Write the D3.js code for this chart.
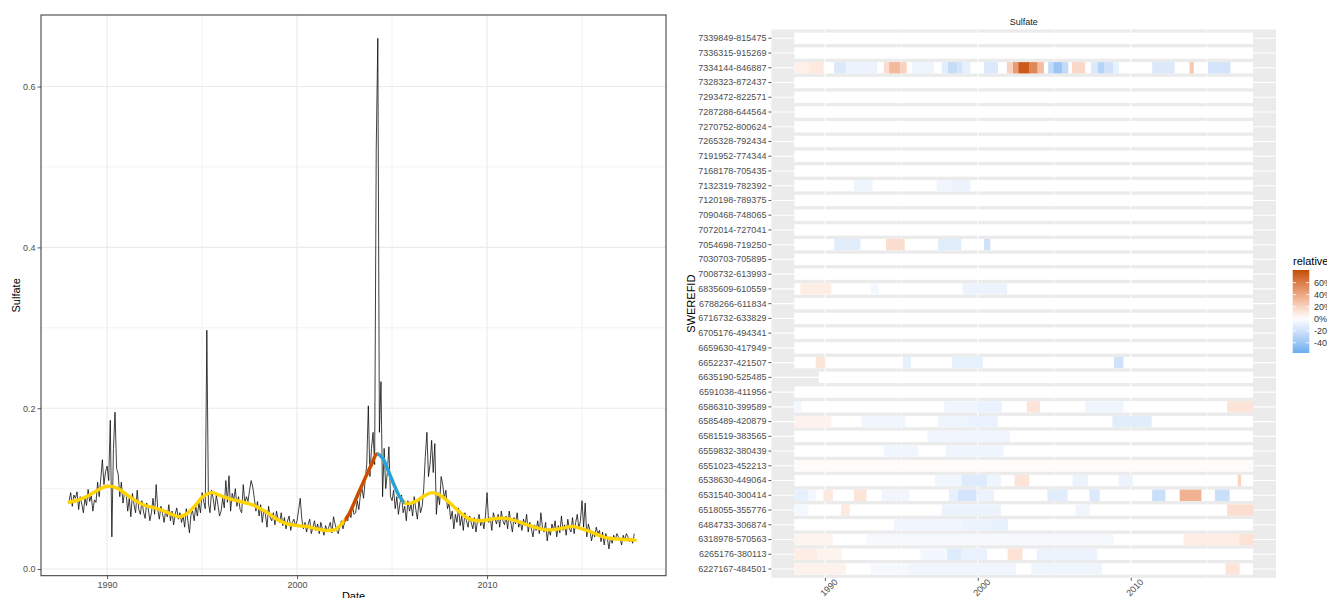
<!DOCTYPE html>
<html>
<head>
<meta charset="utf-8">
<script src="https://cdn.jsdelivr.net/npm/d3@7"></script>
<style>
  html, body { margin: 0; padding: 0; background: #ffffff; }
  svg { display: block; font-family: "Liberation Sans", Arial, sans-serif; }
</style>
</head>
<body>
<svg id="chart" width="1327" height="598"></svg>
<script>
// ---------------- data: monthly sulfate series ----------------
const seriesStartYear = 1988;
const sulfateMonthly = [
  0.085,0.095,0.078,0.092,0.088,0.096,0.074,0.090,0.081,0.070,0.088,0.079, // 1988
  0.099,0.084,0.091,0.072,0.086,0.083,0.108,0.090,0.112,0.136,0.105,0.121, // 1989
  0.128,0.110,0.185,0.040,0.150,0.195,0.125,0.118,0.090,0.108,0.082,0.095, // 1990
  0.095,0.072,0.088,0.065,0.094,0.080,0.070,0.098,0.074,0.068,0.085,0.071, // 1991
  0.063,0.082,0.075,0.060,0.070,0.088,0.068,0.105,0.074,0.062,0.078,0.069, // 1992
  0.058,0.073,0.065,0.080,0.060,0.072,0.055,0.068,0.076,0.062,0.070,0.058, // 1993
  0.066,0.052,0.075,0.060,0.045,0.068,0.072,0.060,0.078,0.066,0.082,0.070, // 1994
  0.095,0.084,0.075,0.297,0.082,0.070,0.098,0.088,0.073,0.092,0.080,0.066, // 1995
  0.072,0.088,0.076,0.110,0.083,0.116,0.072,0.094,0.086,0.100,0.078,0.090, // 1996
  0.074,0.070,0.105,0.082,0.090,0.084,0.098,0.110,0.102,0.088,0.072,0.084, // 1997
  0.066,0.080,0.058,0.074,0.068,0.052,0.078,0.064,0.060,0.070,0.055,0.072, // 1998
  0.062,0.058,0.070,0.054,0.064,0.050,0.060,0.066,0.048,0.058,0.062,0.054, // 1999
  0.060,0.074,0.088,0.062,0.050,0.058,0.046,0.056,0.062,0.044,0.052,0.060, // 2000
  0.048,0.056,0.044,0.058,0.050,0.042,0.054,0.047,0.052,0.058,0.045,0.065, // 2001
  0.056,0.048,0.044,0.054,0.060,0.050,0.058,0.066,0.060,0.072,0.064,0.078, // 2002
  0.068,0.070,0.085,0.074,0.092,0.100,0.088,0.110,0.130,0.203,0.115,0.150, // 2003
  0.170,0.130,0.522,0.660,0.170,0.233,0.090,0.150,0.100,0.120,0.152,0.090, // 2004
  0.085,0.098,0.075,0.090,0.068,0.082,0.092,0.070,0.078,0.060,0.085,0.072, // 2005
  0.080,0.066,0.090,0.074,0.062,0.086,0.070,0.078,0.100,0.140,0.170,0.115, // 2006
  0.130,0.160,0.120,0.156,0.068,0.095,0.080,0.115,0.105,0.088,0.098,0.075, // 2007
  0.082,0.062,0.072,0.050,0.068,0.058,0.076,0.054,0.066,0.048,0.070,0.060, // 2008
  0.052,0.066,0.058,0.050,0.064,0.046,0.060,0.068,0.054,0.062,0.050,0.066, // 2009
  0.095,0.058,0.064,0.048,0.070,0.062,0.056,0.068,0.052,0.072,0.060,0.055, // 2010
  0.066,0.050,0.072,0.058,0.046,0.064,0.056,0.070,0.052,0.060,0.048,0.062, // 2011
  0.054,0.068,0.046,0.058,0.050,0.040,0.055,0.048,0.060,0.044,0.070,0.052, // 2012
  0.046,0.058,0.035,0.050,0.042,0.056,0.048,0.060,0.040,0.054,0.045,0.066, // 2013
  0.048,0.055,0.042,0.062,0.050,0.046,0.064,0.044,0.058,0.068,0.050,0.060, // 2014
  0.085,0.052,0.082,0.040,0.056,0.048,0.035,0.046,0.040,0.052,0.044,0.048, // 2015
  0.034,0.046,0.030,0.044,0.038,0.025,0.040,0.032,0.042,0.036,0.044,0.040, // 2016
  0.038,0.030,0.042,0.036,0.044,0.040,0.034,0.038,0.032,0.044              // 2017
];

// smoothed trend of the series
const trendYears = [1988.0,1988.5,1989.0,1989.5,1990.0,1990.5,1991.0,1991.5,1992.0,1992.5,
  1993.0,1993.5,1993.8,1994.2,1994.6,1995.0,1995.5,1996.0,1996.5,1997.0,1997.5,1998.0,1998.5,
  1999.0,1999.5,2000.0,2000.5,2001.0,2001.5,2002.0,2002.3,2002.7,2003.0,2003.3,2003.6,2003.9,
  2004.2,2004.5,2004.8,2005.1,2005.4,2005.7,2006.0,2006.3,2006.7,2007.1,2007.5,2008.0,2008.5,
  2009.0,2009.5,2010.0,2010.5,2011.0,2011.5,2012.0,2012.5,2013.0,2013.5,2014.0,2014.5,2015.0,
  2015.5,2016.0,2016.5,2017.0,2017.8];
const trendValues = [0.083,0.086,0.091,0.098,0.103,0.101,0.093,0.085,0.079,0.076,
  0.072,0.067,0.065,0.069,0.078,0.089,0.095,0.091,0.087,0.084,0.081,0.076,0.069,
  0.061,0.056,0.054,0.053,0.050,0.048,0.049,0.055,0.067,0.082,0.098,0.114,0.129,
  0.143,0.138,0.122,0.105,0.090,0.082,0.082,0.085,0.091,0.095,0.092,0.083,0.072,
  0.063,0.060,0.061,0.063,0.063,0.060,0.056,0.052,0.049,0.049,0.051,0.053,0.050,
  0.046,0.041,0.038,0.037,0.036];
const risingSpan = [2002.5, 2004.22];   // significant increase
const fallingSpan = [2004.22, 2005.65]; // significant decrease

const sulfateTicks = [0.0, 0.2, 0.4, 0.6];
const sulfateMinorTicks = [0.1, 0.3, 0.5];
const yearTicks = [1990, 2000, 2010];
const yearMinorTicks = [1995, 2005, 2015];

// ---------------- data: relative change per station ----------------
const stationIds = [
  "7339849-815475","7336315-915269","7334144-846887","7328323-872437","7293472-822571",
  "7287288-644564","7270752-800624","7265328-792434","7191952-774344","7168178-705435",
  "7132319-782392","7120198-789375","7090468-748065","7072014-727041","7054698-719250",
  "7030703-705895","7008732-613993","6835609-610559","6788266-611834","6716732-633829",
  "6705176-494341","6659630-417949","6652237-421507","6635190-525485","6591038-411956",
  "6586310-399589","6585489-420879","6581519-383565","6559832-380439","6551023-452213",
  "6538630-449064","6531540-300414","6518055-355776","6484733-306874","6318978-570563",
  "6265176-380113","6227167-484501"
];
const recordFrom = [1988,1988,1988,1988,1988,1988,1988,1988,1988,1988,1988,1988,1988,1988,1988,
  1988,1988,1988,1988,1988,1988,1988,1988,1989.6,1988,1988,1988,1988,1988,1988,1988,1988,1988,
  1988,1988,1988,1988];
const recordTo = 2018;
// [from, to, relative change in %]
const stationSegments = [
  [], [],
  [[1988.0,1989.0,7],[1989.0,1989.9,10],[1990.6,1991.4,-15],[1991.4,1993.4,-8],[1993.85,1994.2,15],
   [1994.2,1994.9,32],[1994.9,1995.33,20],[1995.7,1997.1,-7],[1997.65,1998.05,-12],[1998.05,1998.65,-24],
   [1998.65,1999.0,-18],[1999.0,1999.5,-10],[2000.4,2001.3,-15],[2001.9,2002.3,20],[2002.3,2002.65,45],
   [2002.65,2003.35,75],[2003.35,2003.9,55],[2003.9,2004.3,30],[2004.6,2004.95,-25],[2004.95,2005.5,-40],
   [2005.5,2005.9,-25],[2006.15,2007.0,18],[2007.4,2007.85,-15],[2007.85,2008.25,-30],[2008.25,2008.85,-20],
   [2008.85,2009.2,-10],[2011.4,2012.85,-15],[2013.85,2014.1,25],[2015.05,2016.5,-18]],
  [], [], [], [], [], [], [],
  [[1991.9,1993.1,-7],[1997.3,1998.3,-6],[1998.3,1999.5,-8]],
  [], [], [],
  [[1990.6,1992.3,-12],[1994.0,1995.2,15],[1997.4,1998.9,-12],[2000.4,2000.8,-20]],
  [], [],
  [[1988.4,1990.4,8],[1993.0,1993.5,-5],[1999.0,2001.9,-8]],
  [], [], [], [],
  [[1989.4,1990.0,12],[1995.1,1995.6,-10],[1998.3,2000.3,-10],[2008.9,2009.5,-20]],
  [], [],
  [[1988.0,1988.45,-5],[1997.8,2000.0,-6],[2000.0,2001.55,-9],[2003.2,2004.05,12],[2007.0,2009.5,-7],[2016.3,2018.0,12]],
  [[1988.0,1990.4,6],[1992.4,1995.25,-6],[1997.4,1999.3,-7],[1999.3,2001.3,-9],[2008.8,2011.35,-12]],
  [[1996.7,2002.1,-6]],
  [[1993.85,1996.1,-6],[1997.9,2001.65,-7]],
  [[1988.0,2018.0,2]],
  [[1997.2,1998.95,-6],[1998.95,2000.6,-14],[2000.6,2001.5,-7],[2002.4,2003.35,12],[2006.2,2007.2,-8],
   [2009.2,2010.1,-8],[2017.0,2017.2,20]],
  [[1988.0,1988.9,-10],[1988.9,1989.4,-5],[1989.9,1990.5,10],[1991.9,1992.7,12],[1993.7,1995.5,-6],
   [1998.1,1998.7,-10],[1998.7,1999.9,-18],[1999.9,2001.05,-8],[2004.55,2005.85,-12],[2007.3,2007.95,-15],
   [2011.4,2012.25,-22],[2013.2,2014.6,35],[2015.5,2016.45,-22]],
  [[1988.0,1988.9,-5],[1991.05,1991.6,10],[1997.65,2001.5,-8],[2006.4,2007.3,-6],[2016.3,2018.0,15]],
  [[1994.5,1999.0,-6],[1999.0,2000.9,-8],[2000.9,2001.95,-10]],
  [[1988.0,1990.5,5],[1992.7,2008.85,-4],[2013.45,2017.1,8],[2017.1,2018.0,13]],
  [[1988.0,1989.5,8],[1989.5,1991.1,5],[1996.25,1998.0,-5],[1998.0,1998.9,-14],[1998.9,2000.6,-9],
   [2001.95,2002.9,13],[2003.85,2007.8,-8]],
  [[1988.0,1991.35,6],[1993.0,1995.5,-4],[1995.5,2002.5,-6],[2003.5,2008.1,-7],[2016.2,2017.1,12]]
];
const relativeRange = [-57, 81];
const legendTicks = [60, 40, 20, 0, -20, -40];

// ---------------- drawing ----------------
const svg = d3.select("#chart");
const TEXT = "#4d4d4d";

function styleAxis(g, size) {
  g.attr("font-family", null).attr("font-size", null);
  g.select(".domain").remove();
  g.selectAll(".tick line").attr("stroke", "#333333").attr("stroke-width", 0.8);
  g.selectAll(".tick text").attr("fill", TEXT).style("font-size", size + "px");
}

// ===== left panel: time series =====
const P = { left: 41, right: 666, top: 15, bottom: 575.7 };
const x = d3.scaleLinear().domain([1986.52, 2019.42]).range([P.left, P.right]);
const y = d3.scaleLinear().domain([-0.0083, 0.689]).range([P.bottom, P.top]);

const left = svg.append("g");
left.append("rect").attr("x", P.left).attr("y", P.top)
  .attr("width", P.right - P.left).attr("height", P.bottom - P.top).attr("fill", "#ffffff");

const gridL = left.append("g");
gridL.selectAll("line.vmin").data(yearMinorTicks).join("line")
  .attr("x1", d => x(d)).attr("x2", d => x(d)).attr("y1", P.top).attr("y2", P.bottom)
  .attr("stroke", "#ebebeb").attr("stroke-width", 0.6);
gridL.selectAll("line.hmin").data(sulfateMinorTicks).join("line")
  .attr("x1", P.left).attr("x2", P.right).attr("y1", d => y(d)).attr("y2", d => y(d))
  .attr("stroke", "#ebebeb").attr("stroke-width", 0.6);
gridL.selectAll("line.vmaj").data(yearTicks).join("line")
  .attr("x1", d => x(d)).attr("x2", d => x(d)).attr("y1", P.top).attr("y2", P.bottom)
  .attr("stroke", "#ebebeb").attr("stroke-width", 1.1);
gridL.selectAll("line.hmaj").data(sulfateTicks).join("line")
  .attr("x1", P.left).attr("x2", P.right).attr("y1", d => y(d)).attr("y2", d => y(d))
  .attr("stroke", "#ebebeb").attr("stroke-width", 1.1);

svg.append("defs").call(defs => {
  defs.append("clipPath").attr("id", "panelClip").append("rect")
    .attr("x", P.left).attr("y", P.top).attr("width", P.right - P.left).attr("height", P.bottom - P.top);
  defs.append("clipPath").attr("id", "riseClip").append("rect")
    .attr("x", x(risingSpan[0])).attr("y", P.top)
    .attr("width", x(risingSpan[1]) - x(risingSpan[0])).attr("height", P.bottom - P.top);
  defs.append("clipPath").attr("id", "fallClip").append("rect")
    .attr("x", x(fallingSpan[0])).attr("y", P.top)
    .attr("width", x(fallingSpan[1]) - x(fallingSpan[0])).attr("height", P.bottom - P.top);
});

const series = sulfateMonthly.map((v, i) => ({ t: seriesStartYear + i / 12, v }));
const plot = left.append("g").attr("clip-path", "url(#panelClip)");
plot.append("path").datum(series)
  .attr("fill", "none").attr("stroke", "#000000").attr("stroke-width", 0.75)
  .attr("stroke-linejoin", "round")
  .attr("d", d3.line().x(d => x(d.t)).y(d => y(d.v)));

const trend = trendYears.map((t, i) => ({ t, v: trendValues[i] }));
const trendLine = d3.line().x(d => x(d.t)).y(d => y(d.v)).curve(d3.curveCatmullRom.alpha(0.5));
plot.append("path").datum(trend).attr("fill", "none").attr("stroke", "#FFD400")
  .attr("stroke-width", 3.4).attr("stroke-linecap", "round").attr("d", trendLine);
plot.append("g").attr("clip-path", "url(#riseClip)").append("path").datum(trend)
  .attr("fill", "none").attr("stroke", "#C94B05").attr("stroke-width", 3.4).attr("d", trendLine);
plot.append("g").attr("clip-path", "url(#fallClip)").append("path").datum(trend)
  .attr("fill", "none").attr("stroke", "#22A3E6").attr("stroke-width", 3.4).attr("d", trendLine);

left.append("rect").attr("x", P.left).attr("y", P.top)
  .attr("width", P.right - P.left).attr("height", P.bottom - P.top)
  .attr("fill", "none").attr("stroke", "#333333").attr("stroke-width", 1);

left.append("g").attr("transform", `translate(${P.left},0)`)
  .call(d3.axisLeft(y).tickValues(sulfateTicks).tickFormat(d3.format(".1f")).tickSize(3.5).tickPadding(2))
  .call(g => styleAxis(g, 9));
left.append("g").attr("transform", `translate(0,${P.bottom})`)
  .call(d3.axisBottom(x).tickValues(yearTicks).tickFormat(d3.format("d")).tickSize(3.5).tickPadding(2))
  .call(g => styleAxis(g, 9));

left.append("text").attr("transform", `translate(20,${(P.top + P.bottom) / 2}) rotate(-90)`)
  .attr("text-anchor", "middle").attr("font-size", 11).attr("fill", "#000").text("Sulfate");
left.append("text").attr("x", (P.left + P.right) / 2).attr("y", 600)
  .attr("text-anchor", "middle").attr("font-size", 11).attr("fill", "#000").text("Date");

// ===== right panel: relative change heat map =====
const H = { left: 771.4, right: 1276, top: 29.45, bottom: 577.85 };
const hx = d3.scaleLinear().domain([1986.5, 2019.5]).range([H.left, H.right]);
const hy = d3.scaleBand().domain(stationIds).range([H.top, H.bottom]).paddingInner(0).paddingOuter(0.1);
const fill = d3.scaleLinear().domain([relativeRange[0], 0, relativeRange[1]])
  .range(["#69aef0", "#ffffff", "#c44c00"]).interpolate(d3.interpolateLab);

const right = svg.append("g");
right.append("rect").attr("x", H.left).attr("y", H.top)
  .attr("width", H.right - H.left).attr("height", H.bottom - H.top).attr("fill", "#ebebeb");

right.selectAll("line.hminor").data(yearMinorTicks).join("line")
  .attr("x1", d => hx(d)).attr("x2", d => hx(d)).attr("y1", H.top).attr("y2", H.bottom)
  .attr("stroke", "#ffffff").attr("stroke-width", 0.6);
right.selectAll("line.hmajor").data(yearTicks).join("line")
  .attr("x1", d => hx(d)).attr("x2", d => hx(d)).attr("y1", H.top).attr("y2", H.bottom)
  .attr("stroke", "#ffffff").attr("stroke-width", 1.1);
right.selectAll("line.hrow").data(stationIds).join("line")
  .attr("x1", H.left).attr("x2", H.right)
  .attr("y1", d => hy(d) + hy.bandwidth() / 2).attr("y2", d => hy(d) + hy.bandwidth() / 2)
  .attr("stroke", "#ffffff").attr("stroke-width", 1.1);

const tileH = hy.bandwidth() * 0.77;
const rows = right.selectAll("g.row").data(stationIds).join("g")
  .attr("transform", d => `translate(0,${hy(d) + (hy.bandwidth() - tileH) / 2})`);
rows.append("rect")
  .attr("x", (d, i) => hx(recordFrom[i])).attr("width", (d, i) => hx(recordTo) - hx(recordFrom[i]))
  .attr("height", tileH).attr("fill", fill(0));
rows.each(function (d, i) {
  d3.select(this).selectAll("rect.seg").data(stationSegments[i]).join("rect")
    .attr("class", "seg")
    .attr("x", s => hx(s[0])).attr("width", s => hx(s[1]) - hx(s[0]) + 0.3)
    .attr("height", tileH).attr("fill", s => fill(s[2]));
});

right.append("g").attr("transform", `translate(${H.left},0)`)
  .call(d3.axisLeft(hy).tickSize(3).tickPadding(2))
  .call(g => styleAxis(g, 9));
right.append("g").attr("transform", `translate(0,${H.bottom})`)
  .call(d3.axisBottom(hx).tickValues(yearTicks).tickFormat(d3.format("d")).tickSize(3))
  .call(g => styleAxis(g, 9))
  .call(g => g.selectAll(".tick text")
    .attr("y", 0).attr("dy", "0.35em").attr("text-anchor", "middle")
    .attr("transform", "translate(3.5,9.7) rotate(-45)"));

right.append("text").attr("x", (H.left + H.right) / 2).attr("y", 25)
  .attr("text-anchor", "middle").attr("font-size", 9).attr("fill", "#1a1a1a").text("Sulfate");
right.append("text").attr("transform", `translate(695,${(H.top + H.bottom) / 2}) rotate(-90)`)
  .attr("text-anchor", "middle").attr("font-size", 11).attr("fill", "#000").text("SWEREFID");

// legend colour bar
const legend = svg.append("g");
const barTop = 270, barBottom = 353, barX = 1292.7, barW = 16.6;
const ly = d3.scaleLinear().domain(relativeRange).range([barBottom, barTop]);
const grad = svg.select("defs").append("linearGradient").attr("id", "relGrad")
  .attr("x1", 0).attr("y1", 1).attr("x2", 0).attr("y2", 0);
d3.range(0, 21).forEach(k => {
  const v = relativeRange[0] + (relativeRange[1] - relativeRange[0]) * k / 20;
  grad.append("stop").attr("offset", (k / 20 * 100) + "%").attr("stop-color", fill(v));
});
legend.append("text").attr("x", 1293).attr("y", 265).attr("font-size", 11).attr("fill", "#000").text("relative");
legend.append("rect").attr("x", barX).attr("y", barTop).attr("width", barW)
  .attr("height", barBottom - barTop).attr("fill", "url(#relGrad)");
legendTicks.forEach(v => {
  legend.append("line").attr("x1", barX).attr("x2", barX + 3.5).attr("y1", ly(v)).attr("y2", ly(v))
    .attr("stroke", "#ffffff").attr("stroke-width", 0.8);
  legend.append("line").attr("x1", barX + barW - 3.5).attr("x2", barX + barW).attr("y1", ly(v)).attr("y2", ly(v))
    .attr("stroke", "#ffffff").attr("stroke-width", 0.8);
  legend.append("text").attr("x", 1314).attr("y", ly(v)).attr("dy", "0.35em")
    .attr("font-size", 9).attr("fill", "#333").text(v + "%");
});
</script>
</body>
</html>
